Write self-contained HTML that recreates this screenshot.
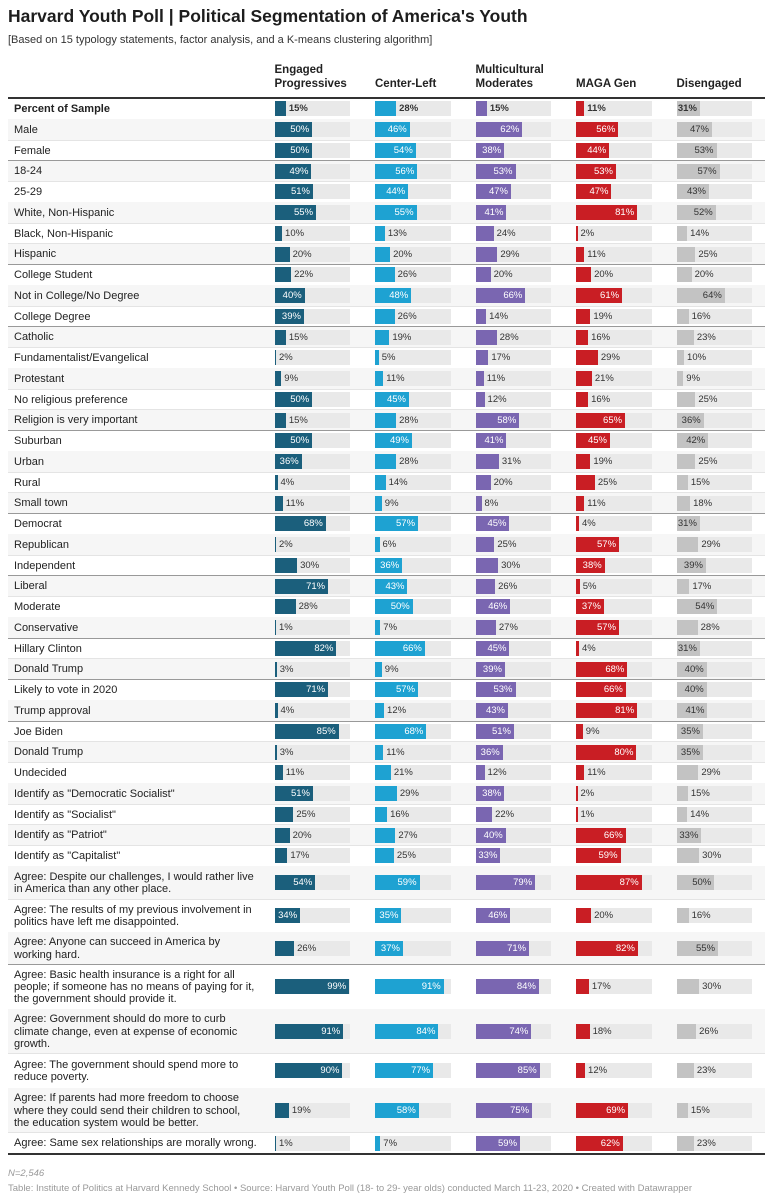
<!DOCTYPE html>
<html><head><meta charset="utf-8">
<style>
body{margin:0;width:773px;height:1200px;background:#fff;font-family:"Liberation Sans",sans-serif;color:#222;position:relative;overflow:hidden}
.abs{position:absolute}
#title{left:8px;top:6px;font-size:17.5px;font-weight:bold;color:#1d1d1d}
#sub{left:8px;top:34px;font-size:11px;color:#333}
.hdr{font-size:11.5px;font-weight:bold;color:#222;line-height:13.5px}
.lbl{font-size:11px;line-height:12.3px;color:#222;display:flex;align-items:center}
.track{background:#e9e9e9}
.val{font-size:9.5px;line-height:15px;white-space:nowrap}
#foot1{left:8px;top:1168px;font-size:9.5px;color:#999;font-style:italic}
#foot2{left:8px;top:1183px;font-size:9.5px;color:#999}
</style></head><body>
<div id="title" class="abs">Harvard Youth Poll | Political Segmentation of America's Youth</div>
<div id="sub" class="abs">[Based on 15 typology statements, factor analysis, and a K-means clustering algorithm]</div>
<div id="tbl"></div>
<div id="foot1" class="abs">N=2,546</div>
<div id="foot2" class="abs">Table: Institute of Politics at Harvard Kennedy School • Source: Harvard Youth Poll (18- to 29- year olds) conducted March 11-23, 2020 • Created with Datawrapper</div>
<script>
const segments=["Engaged<br>Progressives","Center-Left","Multicultural<br>Moderates","MAGA Gen","Disengaged"];
const rowLabels=["Percent of Sample","Male","Female","18-24","25-29","White, Non-Hispanic","Black, Non-Hispanic","Hispanic","College Student","Not in College/No Degree","College Degree","Catholic","Fundamentalist/Evangelical","Protestant","No religious preference","Religion is very important","Suburban","Urban","Rural","Small town","Democrat","Republican","Independent","Liberal","Moderate","Conservative","Hillary Clinton","Donald Trump","Likely to vote in 2020","Trump approval","Joe Biden","Donald Trump","Undecided","Identify as \"Democratic Socialist\"","Identify as \"Socialist\"","Identify as \"Patriot\"","Identify as \"Capitalist\"","Agree: Despite our challenges, I would rather live in America than any other place.","Agree: The results of my previous involvement in politics have left me disappointed.","Agree: Anyone can succeed in America by working hard.","Agree: Basic health insurance is a right for all people; if someone has no means of paying for it, the government should provide it.","Agree: Government should do more to curb climate change, even at expense of economic growth.","Agree: The government should spend more to reduce poverty.","Agree: If parents had more freedom to choose where they could send their children to school, the education system would be better.","Agree: Same sex relationships are morally wrong."];
const engaged=[15,50,50,49,51,55,10,20,22,40,39,15,2,9,50,15,50,36,4,11,68,2,30,71,28,1,82,3,71,4,85,3,11,51,25,20,17,54,34,26,99,91,90,19,1];
const centerLeft=[28,46,54,56,44,55,13,20,26,48,26,19,5,11,45,28,49,28,14,9,57,6,36,43,50,7,66,9,57,12,68,11,21,29,16,27,25,59,35,37,91,84,77,58,7];
const multicultural=[15,62,38,53,47,41,24,29,20,66,14,28,17,11,12,58,41,31,20,8,45,25,30,26,46,27,45,39,53,43,51,36,12,38,22,40,33,79,46,71,84,74,85,75,59];
const maga=[11,56,44,53,47,81,2,11,20,61,19,16,29,21,16,65,45,19,25,11,4,57,38,5,37,57,4,68,66,81,9,80,11,2,1,66,59,87,20,82,17,18,12,69,62];
const disengaged=[31,47,53,57,43,52,14,25,20,64,16,23,10,9,25,36,42,25,15,18,31,29,39,17,54,28,31,40,40,41,35,35,29,15,14,33,30,50,16,55,30,26,23,15,23];
const series=[engaged,centerLeft,multicultural,maga,disengaged];
const colors=["#1b5f7c","#1ea2d2","#7a66b1","#c91e24","#c3c3c3"];
const groupBreaks=[0,2,4,7,10,15,19,22,25,27,28,29,32,36,39];
const colX=[274.5,375,475.5,576,676.5], trackW=75.5, x0=8, x1=765;
const tbl=document.getElementById('tbl');
function mk(cls,st,html){const d=document.createElement('div');d.className='abs '+(cls||'');Object.assign(d.style,st);if(html!==undefined)d.innerHTML=html;tbl.appendChild(d);return d;}
segments.forEach((s,i)=>{const two=s.includes('<br>');const h=mk('hdr',{left:colX[i]+'px',top:(two?64:78)+'px'},s);

});
const hl=mk('',{left:x0+'px',top:'96.5px',width:(x1-x0)+'px',height:'2px',background:'#333'});


const heights=rowLabels.map((l,i)=>i<37?20.75:0);
const multiH=[33,33,32,45,44,35,44,21.5];
multiH.forEach((h,k)=>heights[37+k]=h);
let y=98.5;
rowLabels.forEach((lab,r)=>{
  const h=heights[r];
  if(r%2===1){const bg=mk('',{left:x0+'px',top:y+'px',width:(x1-x0)+'px',height:h+'px',background:'#f6f6f6'});
  
  }
  const L=mk('lbl',{left:'14px',top:(y+0.5)+'px',height:h+'px',width:'243px',fontWeight:r===0?'bold':'normal'},'<span>'+lab+'</span>');
  
  
  const cy=y+h/2;
  series.forEach((arr,c)=>{
    const v=arr[r];
    const t=mk('track',{left:colX[c]+'px',top:(cy-7.5)+'px',width:trackW+'px',height:'15px'});
    
    
    const bw=Math.max(1.5,trackW*v/100);
    const b=mk('',{left:colX[c]+'px',top:(cy-7.5)+'px',width:bw+'px',height:'15px',background:colors[c]});
    
    
    const inside=(c===4?v>=31:v>=32);
    const st={top:(cy-7.5)+'px',fontWeight:r===0?'bold':'normal'};
    if(inside){st.left=colX[c]+'px';st.width=(bw-3)+'px';st.textAlign='right';st.color=c===4?'#333':'#fff';}
    else{st.left=(colX[c]+bw+3)+'px';st.color='#333';}
    const vl=mk('val',st,v+'%');
    
    
  });
  y+=h;
  const brk=groupBreaks.includes(r), last=r===rowLabels.length-1;
  const ln=mk('',{left:x0+'px',top:(y-(last?1:0.5))+'px',width:(x1-x0)+'px',height:(last?2:1)+'px',background:last?'#333':(brk?'#999':'#e4e4e4')});
  
  
});
</script>
</body></html>
